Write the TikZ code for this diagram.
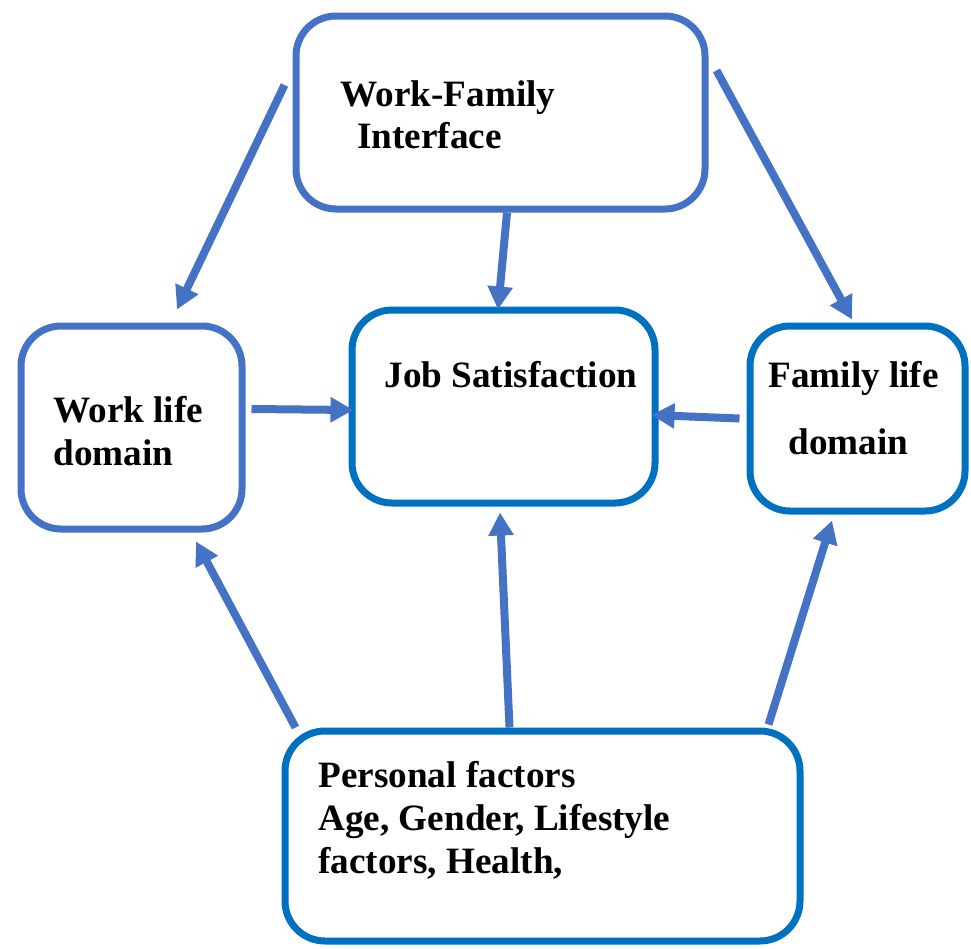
\documentclass[tikz,border=0pt]{standalone}
\usepackage{fontspec}
\setmainfont{Liberation Serif}
\usetikzlibrary{arrows.meta}

\definecolor{lightblue}{HTML}{4472C4}
\definecolor{darkblue}{HTML}{0070C0}

\begin{document}
\begin{tikzpicture}[x=0.5pt,y=-0.5pt,>={Triangle[length=11.5pt,width=12pt]}]
  \tikzstyle{box}=[draw=darkblue,line width=3.5pt,rounded corners=20pt,inner sep=0pt]
  \tikzstyle{lbl}=[anchor=base west,inner sep=0pt,font=\fontsize{18.6}{21.5}\selectfont\bfseries]
  \tikzstyle{link}=[->,draw=lightblue,fill=lightblue,line width=4pt]
  \useasboundingbox (0,0) rectangle (971,949);

  % boxes
  \node[box,draw=lightblue,minimum width=204.5pt,minimum height=96.5pt] (wfi) at (500.5,112.5) {};
  \node[box,draw=lightblue,minimum width=110.5pt,minimum height=101.5pt] (work) at (131.5,427.5) {};
  \node[box,minimum width=151.5pt,minimum height=96.5pt] (job) at (503.5,406.5) {};
  \node[box,minimum width=107.5pt,minimum height=92.5pt] (family) at (857.5,418.5) {};
  \node[box,minimum width=257.5pt,minimum height=105pt] (pers) at (542.5,836) {};

  % texts
  \node[lbl] (wfi-1) at (340,106) {Work-Family};
  \node[lbl] (wfi-2) at (357,148) {Interface};
  \node[lbl] (job-1) at (384,387) {Job Satisfaction};
  \node[lbl] (work-1) at (53,422) {Work life};
  \node[lbl] (work-2) at (53,465) {domain};
  \node[lbl] (family-1) at (768,387) {Family life};
  \node[lbl] (family-2) at (788,454) {domain};
  \foreach \i/\y/\t in {1/787/Personal factors,2/830/{Age, Gender, Lifestyle},3/873/{factors, Health,}} {
    \node[lbl] (pers-\i) at (318,\y) {\t};
  }

  % arrows
  \draw[link] ([xshift=-4pt,yshift=13.75pt]wfi.west) -- ([xshift=22.75pt,yshift=6.5pt]work.north);
  \draw[link] ([xshift=3.25pt]wfi.south) -- ([xshift=-2.75pt,yshift=-1.5pt]job.north);
  \draw[link] ([xshift=4pt,yshift=21pt]wfi.east) -- ([xshift=-2.75pt,yshift=1.5pt]family.north);
  \draw[link] ([xshift=3pt,yshift=9.25pt]work.east) -- ([xshift=2.5pt,yshift=-1.75pt]job.west);
  \draw[link] ([xshift=-3.5pt]family.west) -- ([xshift=-3.5pt,yshift=-4.25pt]job.east);
  \draw[link] ([xshift=7pt]pers.north west) -- ([xshift=32.25pt,yshift=-4.5pt]work.south);
  \draw[link] ([xshift=-16.5pt]pers.north) -- ([xshift=-1.75pt,yshift=-3pt]job.south);
  \draw[link] ([xshift=-17.5pt,yshift=1.5pt]pers.north east) -- ([xshift=-12.75pt,yshift=-3pt]family.south);
\end{tikzpicture}
\end{document}
